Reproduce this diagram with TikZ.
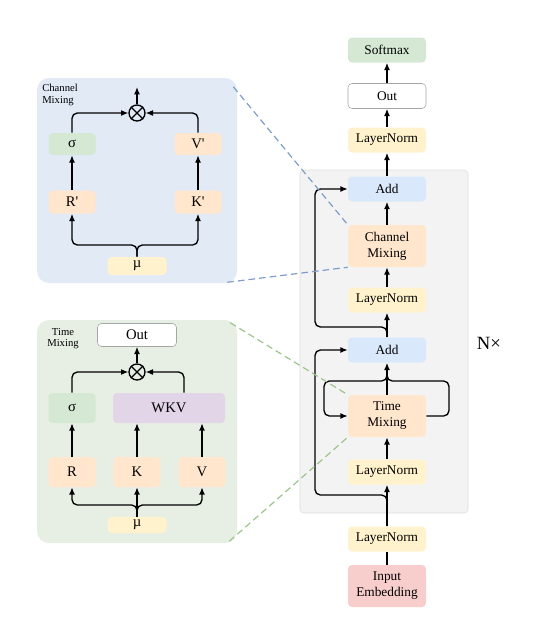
\documentclass[tikz,border=0pt]{standalone}
\usepackage{fontspec}
\setmainfont{Liberation Serif}
\usepackage{xcolor}
\usepackage{tikz}
\usetikzlibrary{arrows.meta}
\definecolor{boxgreen}{HTML}{D5E8D4}
\definecolor{boxyellow}{HTML}{FFF2CC}
\definecolor{boxorange}{HTML}{FFE6CC}
\definecolor{boxblue}{HTML}{DAE8FC}
\definecolor{boxred}{HTML}{F8CECC}
\definecolor{boxpurple}{HTML}{E1D5E7}
\definecolor{panelblue}{HTML}{E2EAF6}
\definecolor{panelgreen}{HTML}{E7EFE4}
\definecolor{blockgray}{HTML}{F3F3F3}
\definecolor{blockline}{HTML}{DDDDDD}
\definecolor{zoomblue}{HTML}{7E9DC9}
\definecolor{zoomgreen}{HTML}{9DC48B}
\tikzset{>={Latex[length=5.5pt,width=4.5pt]}}
\tikzset{
  box/.style={rounded corners=3pt, align=center, inner sep=1pt, font=\fontsize{10}{12}\selectfont},
  mainbox/.style={box, minimum width=58.5pt, minimum height=18.75pt},
  tallbox/.style={box, minimum width=58.5pt, minimum height=31.5pt},
  pbox/.style={box, font=\fontsize{11}{13}\selectfont, minimum width=35.25pt},
  conn/.style={line width=1pt},
  panel/.style={rounded corners=9pt, minimum width=150pt},
  zoomline/.style={line width=0.9pt, dash pattern=on 5pt off 3pt},
  lbl/.style={inner sep=0pt, font=\fontsize{8}{8.5}\selectfont}
}

\begin{document}
\begin{tikzpicture}[x=0.75pt, y=-0.75pt]
      \useasboundingbox (0,0) rectangle (550,644);
      % panels and block
      \node[panel, fill=panelblue, minimum height=153.75pt] (chpanel) at (137,180.5) {};
      \node[panel, fill=panelgreen, minimum height=167.25pt] (tmpanel) at (137,431.5) {};
      \draw[fill=blockgray, draw=blockline, rounded corners=3pt] (300,170) rectangle (468,513);
      % main column
      \node[mainbox, fill=boxgreen] (softmax) at (387,50) {Softmax};
      \node[mainbox, fill=white, draw=black!35] (out) at (387,96) {Out};
      \node[mainbox, fill=boxyellow] (ln3) at (387,140) {LayerNorm};
      \node[mainbox, fill=boxblue] (add1) at (387,189) {Add};
      \node[tallbox, fill=boxorange] (cm) at (387,246) {Channel\\Mixing};
      \node[mainbox, fill=boxyellow] (ln2) at (387,300) {LayerNorm};
      \node[mainbox, fill=boxblue] (add2) at (387,350) {Add};
      \node[tallbox, fill=boxorange] (tm) at (387,416) {Time\\Mixing};
      \node[mainbox, fill=boxyellow] (ln1) at (387,472) {LayerNorm};
      \node[mainbox, fill=boxyellow] (ln0) at (387,539) {LayerNorm};
      \node[tallbox, fill=boxred] (ie) at (387,586) {Input\\Embedding};
      \node[font=\fontsize{14}{16}\selectfont] (nx) at (489,343) {N×};
      \draw[conn] (ie) -- (ln0);
      \draw[conn,->] (ln0) -- (ln1);
      \draw[conn,->] (ln1) -- (tm);
      \draw[conn,->] (tm) -- (add2);
      \draw[conn,->] (add2) -- (ln2);
      \draw[conn,->] (ln2) -- (cm);
      \draw[conn,->] (cm) -- (add1);
      \draw[conn,->] (add1) -- (ln3);
      \draw[conn,->] (ln3) -- (out);
      \draw[conn,->] (out) -- (softmax);
      % residual paths
      \draw[conn,->,rounded corners=4pt] (ln0.north) -- (387,495) -- (315,495) |- (add2.west);
      \draw[conn,->,rounded corners=4pt] (add2.north) -- (387,327) -- (315,327) |- (add1.west);
      \coordinate (tmjoin) at (387,372);
      \draw[conn,rounded corners=4pt] (tm.east) -- (449,416) -- (449,381) -- (387,381) -- (tmjoin);
      \draw[conn,->,rounded corners=4pt] (tmjoin) -- (387,381) -- (324,381) |- (tm.west);
      % channel mixing panel
      \node[lbl, anchor=north west, align=left] (chlabel) at (42,84) {Channel\\Mixing};
      \node[circle, draw, line width=1pt, minimum size=12pt, inner sep=0pt] (chx) at (137,113) {};
      \draw[conn] (chx.45) -- (chx.225);
      \draw[conn] (chx.135) -- (chx.315);
      \node[pbox, fill=boxgreen, minimum height=16.5pt] (chsig) at (72,144) {σ};
      \node[pbox, fill=boxorange, minimum height=16.5pt] (chv) at (198,144) {V\textquotesingle};
      \node[pbox, fill=boxorange, minimum height=17.25pt] (chr) at (72,202) {R\textquotesingle};
      \node[pbox, fill=boxorange, minimum height=17.25pt] (chk) at (198,202) {K\textquotesingle};
      \node[pbox, fill=boxyellow, minimum width=44.25pt, minimum height=13.5pt] (chmu) at (137,266) {µ};
      \coordinate (chtop) at (137,87);
      \draw[conn,->] (chx) -- (chtop);
      \draw[conn,->] (chr) -- (chsig);
      \draw[conn,->] (chk) -- (chv);
      \draw[conn,->,rounded corners=4pt] (chsig.north) |- (chx.west);
      \draw[conn,->,rounded corners=4pt] (chv.north) |- (chx.east);
      \draw[conn,->,rounded corners=4pt] (chmu.north) -- (137,245) -| (chr.south);
      \draw[conn,->,rounded corners=4pt] (chmu.north) -- (137,245) -| (chk.south);
      % time mixing panel
      \node[lbl, anchor=north, align=center] (tmlabel) at (63,328) {Time\\Mixing};
      \node[pbox, fill=white, draw=black!35, minimum width=59.25pt, minimum height=17.25pt] (tmout) at (137,335) {Out};
      \node[circle, draw, line width=1pt, minimum size=12pt, inner sep=0pt] (tmx) at (137,372) {};
      \draw[conn] (tmx.45) -- (tmx.225);
      \draw[conn] (tmx.135) -- (tmx.315);
      \node[pbox, fill=boxgreen, minimum height=22.5pt] (tmsig) at (72,408) {σ};
      \node[pbox, fill=boxpurple, minimum width=84pt, minimum height=22.5pt] (wkv) at (169,408) {WKV};
      \node[pbox, fill=boxorange, minimum height=22.5pt] (tmr) at (72,472) {R};
      \node[pbox, fill=boxorange, minimum height=22.5pt] (tmk) at (137,472) {K};
      \node[pbox, fill=boxorange, minimum height=22.5pt] (tmv) at (202,472) {V};
      \node[pbox, fill=boxyellow, minimum width=44.25pt, minimum height=12pt] (tmmu) at (137,525) {µ};
      \draw[conn,->] (tmx) -- (tmout);
      \draw[conn,->] (tmr) -- (tmsig);
      \draw[conn,->] (tmk.north) -- (tmk |- wkv.south);
      \draw[conn,->] (tmv.north) -- (tmv |- wkv.south);
      \draw[conn,->,rounded corners=4pt] (tmsig.north) |- (tmx.west);
      \draw[conn,->,rounded corners=4pt] ([xshift=11.25pt]wkv.north) |- (tmx.east);
      \draw[conn,->,rounded corners=4pt] (tmmu.north) -- (137,505) -| (tmr.south);
      \draw[conn,->,rounded corners=4pt] (tmmu.north) -- (137,505) -| (tmv.south);
      \draw[conn,->] (tmmu) -- (tmk);
      % zoom lines
      \draw[zoomline, zoomblue] ([shift={(-4,9)}]chpanel.north east) -- (cm.north west);
      \draw[zoomline, zoomblue] ([shift={(-10,-1)}]chpanel.south east) -- (cm.south west);
      \draw[zoomline, zoomgreen] ([shift={(-7,3)}]tmpanel.north east) -- (tm.north west);
      \draw[zoomline, zoomgreen] ([shift={(-8,-2)}]tmpanel.south east) -- (tm.south west);
    \end{tikzpicture}
\end{document}
